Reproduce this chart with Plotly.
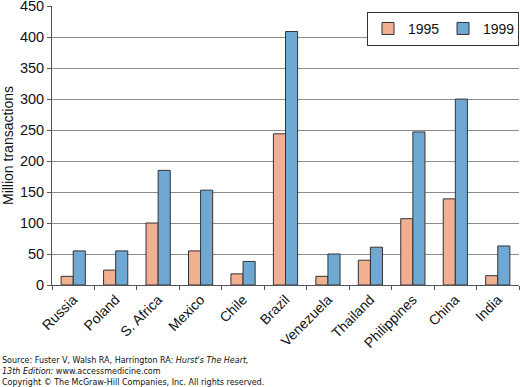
import plotly.graph_objects as go

countries = ["Russia", "Poland", "S. Africa", "Mexico", "Chile", "Brazil",
             "Venezuela", "Thailand", "Philippines", "China", "India"]
vals_1995 = [14, 24, 100, 55, 18, 244, 14, 40, 107, 139, 15]
vals_1999 = [55, 55, 185, 153, 38, 409, 50, 61, 247, 300, 63]
y_ticks = [0, 50, 100, 150, 200, 250, 300, 350, 400, 450]

fig = go.Figure()
fig.add_trace(go.Bar(name="1995", x=countries, y=vals_1995,
                     marker=dict(color="#F2B092", line=dict(color="#333333", width=1))))
fig.add_trace(go.Bar(name="1999", x=countries, y=vals_1999,
                     marker=dict(color="#6FA9D3", line=dict(color="#333333", width=1))))

fig.update_layout(
    width=520, height=387,
    margin=dict(l=52, r=1, t=6, b=102, autoexpand=False),
    paper_bgcolor="white", plot_bgcolor="white",
    barmode="group", bargap=0.43, bargroupgap=0,
    font=dict(family="Liberation Sans, Arial", size=13, color="#111111"),
    showlegend=True,
    legend=dict(orientation="h", x=1, y=0.979, xanchor="right", yanchor="top",
                bordercolor="#333333", borderwidth=1, bgcolor="white",
                font=dict(size=14), itemwidth=30, entrywidth=30, entrywidthmode="pixels",
                tracegroupgap=0),
    xaxis=dict(showline=True, linecolor="#555555", ticks="outside", tickcolor="#555555",
               ticklen=4, tickangle=-45, tickson="boundaries", showgrid=False,
               tickfont=dict(size=14), range=[-0.5, 10.5], automargin=False),
    yaxis=dict(range=[0, 450.2], tickvals=y_ticks, showline=True, linecolor="#555555",
               ticks="outside", tickcolor="#555555", ticklen=4,
               showgrid=True, gridcolor="#8a8a8a", gridwidth=1,
               tickfont=dict(size=14.5), zeroline=False, automargin=False,
               ticklabeloverflow="allow",
               title=dict(text="Million transactions", font=dict(size=14), standoff=10)),
)

foot_font = dict(family="DejaVu Sans, Verdana", size=8, color="#111111")
fig.add_annotation(xref="paper", yref="paper", x=-52/467.5, y=(285-360)/279,
                   xanchor="left", yanchor="middle", showarrow=False, font=foot_font,
                   text="Source: Fuster V, Walsh RA, Harrington RA: <i>Hurst's The Heart,</i>")
fig.add_annotation(xref="paper", yref="paper", x=-52/467.5, y=(285-371)/279,
                   xanchor="left", yanchor="middle", showarrow=False, font=foot_font,
                   text="<i>13th Edition:</i> www.accessmedicine.com")
fig.add_annotation(xref="paper", yref="paper", x=-52/467.5, y=(285-382)/279,
                   xanchor="left", yanchor="middle", showarrow=False, font=foot_font,
                   text="Copyright © The McGraw-Hill Companies, Inc. All rights reserved.")

fig.write_html("out.html", config={"displayModeBar": False},
               post_script="document.body.style.margin='0';document.body.style.overflow='hidden';")
